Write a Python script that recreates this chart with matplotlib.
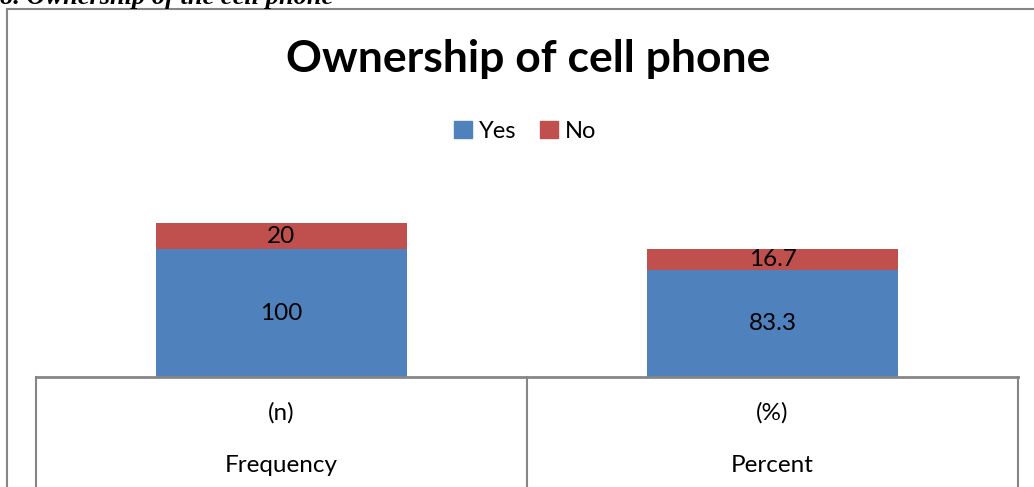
"""Stacked bar chart: ownership of cell phone."""

import matplotlib.pyplot as plt
from matplotlib.lines import Line2D
from matplotlib.patches import Patch
from matplotlib.transforms import blended_transform_factory

categories = ["Frequency", "Percent"]
units = ["(n)", "(%)"]
yes_values = [100, 83.3]
no_values = [20, 16.7]
yes_labels = ["100", "83.3"]
no_labels = ["20", "16.7"]

BLUE = "#4F81BD"
RED = "#C0504D"
GRID = "#868686"
W, H = 1034, 487


def fx(px):
    return px / W


def fy(py):
    return 1 - py / H


def main() -> None:
    plt.rcParams["font.family"] = ["Lato", "DejaVu Sans"]
    fig = plt.figure(figsize=(W / 100, H / 100), dpi=100)
    ax = fig.add_axes([fx(36), fy(377), fx(1018) - fx(36), 140 * 1.28 / H])
    x = list(range(len(categories)))
    ax.bar(x, yes_values, width=0.51, color=BLUE, edgecolor="none")
    ax.bar(x, no_values, width=0.51, bottom=yes_values, color=RED, edgecolor="none")
    for i in x:
        ax.text(i, yes_values[i] / 2, yes_labels[i], ha="center", va="center", fontsize=17.5)
        ax.text(i, yes_values[i] + no_values[i] / 2, no_labels[i], ha="center",
                va="center", fontsize=17.5)
    ax.set_xlim(-0.5, 1.5)
    ax.set_ylim(0, 140)
    ax.axis("off")

    # category table under the axis
    trans = blended_transform_factory(ax.transData, fig.transFigure)
    for i in x:
        ax.text(i, fy(413), units[i], transform=trans, ha="center", va="center",
                fontsize=17.5)
        ax.text(i, fy(465), categories[i], transform=trans, ha="center", va="center",
                fontsize=17.5)
    for xv in [-0.5, 0.5, 1.5]:
        ax.plot([xv, xv], [fy(377), 0], transform=trans, color=GRID, lw=1.5,
                clip_on=False)
    fig.add_artist(Line2D([fx(36), fx(1018)], [fy(377), fy(377)], color=GRID, lw=2))

    # outer chart frame
    fig.add_artist(Line2D([fx(7), fx(7)], [fy(9), 0], color=GRID, lw=1.5))
    fig.add_artist(Line2D([fx(7), 1], [fy(9), fy(9)], color=GRID, lw=1.5))

    fig.text(fx(528), fy(72), "Ownership of cell phone", ha="center", va="baseline",
             fontsize=32, fontweight="bold")
    handles = [Patch(color=BLUE, label="Yes"), Patch(color=RED, label="No")]
    fig.legend(handles=handles, loc="center", bbox_to_anchor=(fx(525), fy(131)), ncol=2,
               frameon=False, fontsize=17, handlelength=0.75, handleheight=0.75,
               handletextpad=0.3, columnspacing=1.0)

    fig.text(0, fy(4), "8. Ownership of the cell phone", ha="left", va="baseline",
             fontsize=19, fontweight="bold", fontstyle="italic",
             family=["Liberation Serif", "DejaVu Serif"])
    fig.savefig("out.png", dpi=100)


if __name__ == "__main__":
    main()
